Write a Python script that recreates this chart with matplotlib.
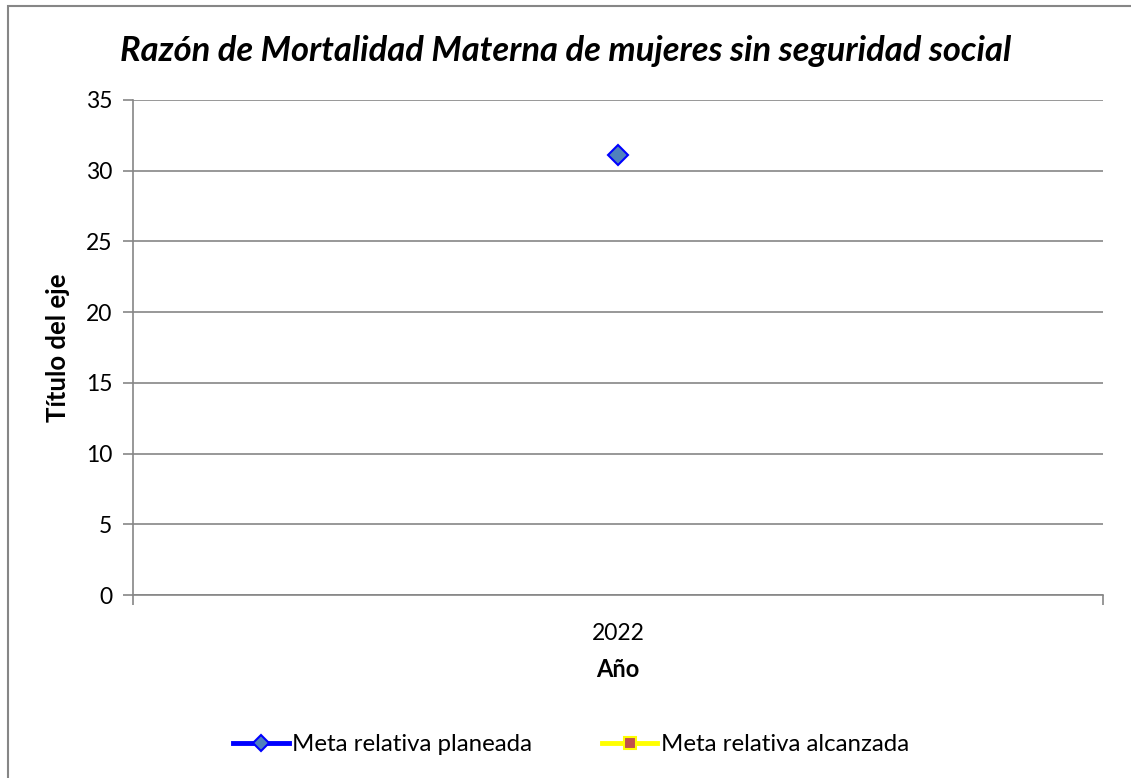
import matplotlib
matplotlib.use("Agg")
import matplotlib.pyplot as plt
import numpy as np
from matplotlib.patches import Rectangle

# data
years = ["2022"]
planeada = [31.1]
alcanzada = [np.nan]

plt.rcParams['font.family'] = ['Lato', 'DejaVu Sans']

fig = plt.figure(figsize=(11.31, 7.78), dpi=100)
ax = fig.add_axes([0.1176, 0.2352, 0.9752 - 0.1176, 0.8715 - 0.2352])

x = np.arange(len(years))
l1, = ax.plot(x, planeada, color='#0000FF', lw=3.5, marker='D', ms=10,
              markerfacecolor='#4F81BD', markeredgecolor='#0000FF', markeredgewidth=1.5,
              label='Meta relativa planeada')
l2, = ax.plot(x, alcanzada, color='#FFFF00', lw=3.5, marker='s', ms=10,
              markerfacecolor='#C0504D', markeredgecolor='#FFFF00', markeredgewidth=1.5,
              label='Meta relativa alcanzada')

ax.set_xlim(-0.5, len(years) - 0.5)
ax.set_ylim(0, 35)
ax.set_yticks(np.arange(0, 36, 5))
ax.set_xticks(x)
ax.set_xticklabels(years)
ax.grid(axis='y', color='#868686', lw=1.2)
ax.set_axisbelow(True)
for s in ['top', 'right']:
    ax.spines[s].set_visible(False)
for s in ['left', 'bottom']:
    ax.spines[s].set_color('#868686')
    ax.spines[s].set_linewidth(1.2)
ax.tick_params(axis='y', length=7, color='#868686', width=1.2, labelsize=16.5, pad=8)
ax.tick_params(axis='x', length=0, labelsize=16.5, pad=20)
# category boundary ticks
ax.set_xticks([-0.5, len(years) - 0.5], minor=True)
ax.tick_params(axis='x', which='minor', length=7, color='#868686', width=1.2)

ax.set_ylabel('Título del eje', fontsize=18.5, fontweight='bold', labelpad=11)
ax.set_xlabel('Año', fontsize=17, fontweight='bold', labelpad=10)

fig.text(0.5, 0.935, 'Razón de Mortalidad Materna de mujeres sin seguridad social',
         ha='center', va='center', fontsize=24.8, fontweight='bold', style='italic')

fig.legend(handles=[l1, l2], loc='center', bbox_to_anchor=(0.505, 0.043), ncol=2,
           frameon=False, fontsize=17.3, handlelength=2.3, handletextpad=0.15,
           columnspacing=2.9, markerscale=0.85)

fig.patches.append(Rectangle((8 / 1131, -0.05), 1.2, 1.05 - 6 / 778,
                             transform=fig.transFigure, fill=False,
                             edgecolor='#868686', lw=1.5))

fig.savefig('out.png', dpi=100)
